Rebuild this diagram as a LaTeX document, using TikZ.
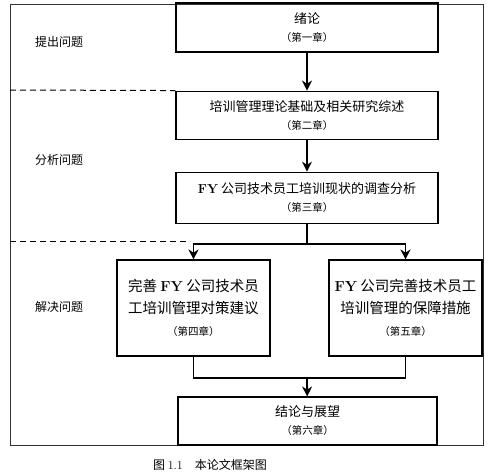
\documentclass[tikz,border=0pt]{standalone}
\usepackage{fontspec}
\newfontfamily\cjk{Noto Sans CJK SC}
\newcommand{\FY}{{\normalfont\bfseries FY}}
\usetikzlibrary{positioning,arrows.meta}

\begin{document}
\begin{tikzpicture}[x=1pt, y=-1pt, node distance = 38pt,
        box/.style   = {draw, line width=1.1pt, minimum width=262pt, minimum height=49pt,
                        align=center, inner sep=0pt, font=\cjk\fontsize{13pt}{18pt}\selectfont},
        tallbox/.style = {box, minimum width=153pt, minimum height=96pt,
                        font=\cjk\fontsize{14.5pt}{22pt}\selectfont},
        part/.style  = {font=\cjk\fontsize{12pt}{14pt}\selectfont},
        arr/.style   = {line width=1.8pt, -{Stealth[length=10pt,width=10pt]}},
        link/.style  = {line width=1.8pt}]
        \useasboundingbox (0,0) rectangle (491,475);

        % Frame
        \draw[line width=0.8pt, black!80] (10,4) rectangle (483,445);

        % Place nodes
        \node[box]                  (ch1) at (307,27.5) {绪论\\{\fontsize{10.5pt}{12pt}\selectfont （第一章）}};
        \node[box, minimum height=48pt] (ch2) [below=of ch1]     {培训管理理论基础及相关研究综述\\{\fontsize{10.5pt}{12pt}\selectfont （第二章）}};
        \node[box, minimum height=51pt] (ch3) [below=32pt of ch2] {\FY\ 公司技术员工培训现状的调查分析\\{\fontsize{10.5pt}{12pt}\selectfont （第三章）}};
        \node[tallbox]              (ch4) at (193.5,308) {完善 \FY\ 公司技术员\\工培训管理对策建议\\{\fontsize{10.5pt}{12pt}\selectfont （第四章）}};
        \node[tallbox]              (ch5) at (405.5,308) {\FY\ 公司完善技术员工\\培训管理的保障措施\\{\fontsize{10.5pt}{12pt}\selectfont （第五章）}};
        \node[box, minimum width=259pt, minimum height=48pt] (ch6) at (307.5,421) {结论与展望\\{\fontsize{10.5pt}{12pt}\selectfont （第六章）}};

        % Part labels
        \node[part] (ask)     at (59,42)  {提出问题};
        \node[part] (analyse) at (59,160) {分析问题};
        \node[part] (solve)   at (59,307) {解决问题};

        \coordinate (split) at (307,244);
        \coordinate (merge) at (307,378);

        % Draw edges
        \draw[arr]  (ch1) -- (ch2);
        \draw[arr]  (ch2) -- (ch3);
        \draw[link] (ch3) -- (split);
        \draw[arr]  (split) -| (ch4);
        \draw[arr]  (split) -| (ch5);
        \draw[link] (ch4.south) |- (merge) -| (ch5.south);
        \draw[arr]  (merge) -- (ch6);

        % Dashed borders
        \draw[line width=1pt, dash pattern=on 6pt off 4pt] (10,90) -- (ch2.north west);
        \draw[line width=1pt, dash pattern=on 6pt off 4pt] (10,241) -- (190,241);

        % Caption
        \node[font=\cjk\fontsize{12pt}{14pt}\selectfont] (caption) at (210,465) {图 {\normalfont 1.1}\quad 本论文框架图};
\end{tikzpicture}
\end{document}
